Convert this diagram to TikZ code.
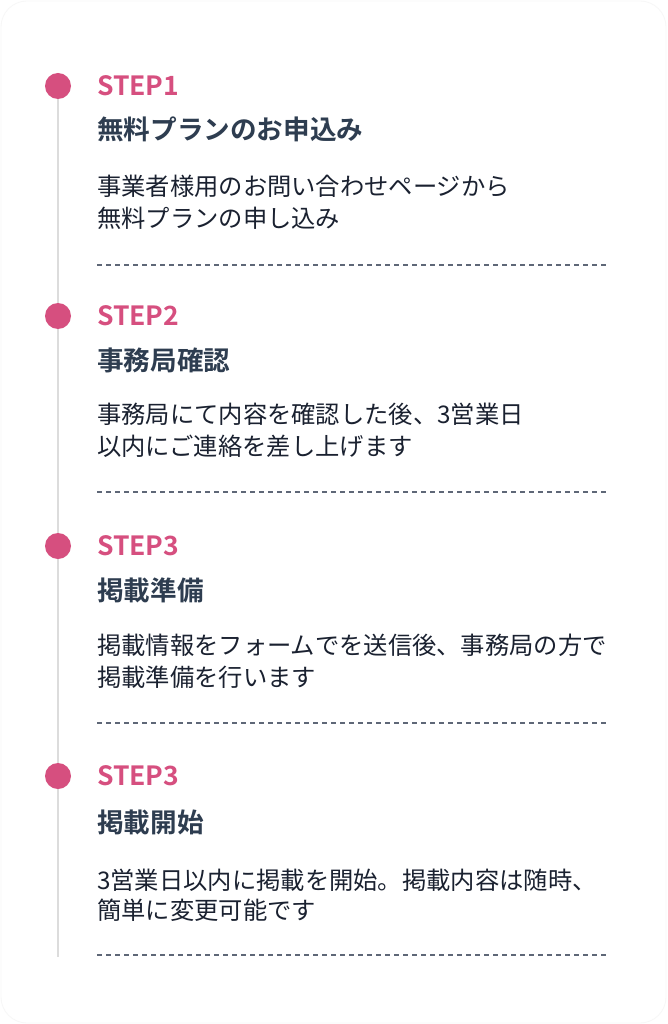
\documentclass[tikz,border=0pt]{standalone}
\usepackage{fontspec}
\setmainfont{Noto Sans CJK JP}
\newfontfamily\jpb{Noto Sans CJK JP Bold}
\definecolor{stepc}{HTML}{D64F7F}
\definecolor{titlec}{HTML}{2E3D50}
\definecolor{descc}{HTML}{1A2130}
\definecolor{linec}{HTML}{DCDCDC}
\definecolor{dashc}{HTML}{5E6777}
\tikzset{
  stepdot/.style={circle,fill=stepc,minimum size=26pt,inner sep=0pt},
  steplbl/.style={anchor=base west,inner sep=0pt,text=stepc,font=\jpb\fontsize{26.5}{30}\selectfont},
  ttl/.style={anchor=base west,inner sep=0pt,text=titlec,font=\jpb\fontsize{26.6}{30}\selectfont},
  dsc/.style={anchor=base west,inner sep=0pt,text=descc,font=\fontsize{24.3}{31}\selectfont},
  sep/.style={draw=dashc,line width=1.2pt,dash pattern=on 5pt off 4pt},
  timeline/.style={draw=linec,line width=1.6pt}
}
\begin{document}
\begin{tikzpicture}[x=1pt,y=-1pt]
\useasboundingbox (0,0) rectangle (667,1024);
\fill[white] (0,0) rectangle (667,1024);
\draw[black!3,line width=0.8pt,rounded corners=26pt] (1,1) rectangle (666,1023);
% timeline
\coordinate (c1) at (58,86);
\coordinate (c2) at (58,316);
\coordinate (c3) at (58,546);
\coordinate (c4) at (58,776);
\coordinate (lineend) at (58,957);
\draw[timeline] (c1) -- (lineend);
\node[stepdot] (d1) at (c1) {};
\node[stepdot] (d2) at (c2) {};
\node[stepdot] (d3) at (c3) {};
\node[stepdot] (d4) at (c4) {};
% block 1
\node[steplbl] (s1) at (97,95.5) {STEP1};
\node[ttl] (t1) at (97,140) {無料プランのお申込み};
\node[dsc] (a1) at (97,196) {事業者様用のお問い合わせページから};
\node[dsc] (b1) at (97,227) {無料プランの申し込み};
\coordinate (l1a) at (97,265); \coordinate (l1b) at (608,265);
\draw[sep] (l1a) -- (l1b);
% block 2
\node[steplbl] (s2) at (97,325.5) {STEP2};
\node[ttl] (t2) at (97,370) {事務局確認};
\node[dsc] (a2) at (97,423) {事務局にて内容を確認した後、3営業日};
\node[dsc] (b2) at (97,455) {以内にご連絡を差し上げます};
\coordinate (l2a) at (97,492); \coordinate (l2b) at (608,492);
\draw[sep] (l2a) -- (l2b);
% block 3
\node[steplbl] (s3) at (97,555.5) {STEP3};
\node[ttl] (t3) at (97,600) {掲載準備};
\node[dsc] (a3) at (97,654) {掲載情報をフォームでを送信後、事務局の方で};
\node[dsc] (b3) at (97,686) {掲載準備を行います};
\coordinate (l3a) at (97,723); \coordinate (l3b) at (608,723);
\draw[sep] (l3a) -- (l3b);
% block 4
\node[steplbl] (s4) at (97,785.5) {STEP3};
\node[ttl] (t4) at (97,832) {掲載開始};
\node[dsc] (a4) at (97,889) {3営業日以内に掲載を開始。掲載内容は随時、};
\node[dsc] (b4) at (97,919) {簡単に変更可能です};
\coordinate (l4a) at (97,955); \coordinate (l4b) at (608,955);
\draw[sep] (l4a) -- (l4b);
\end{tikzpicture}
\end{document}
